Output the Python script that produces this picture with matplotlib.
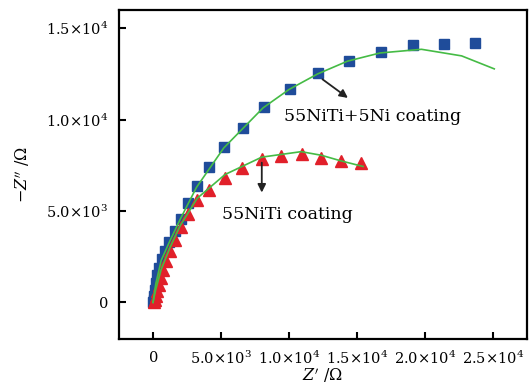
import matplotlib
matplotlib.use("Agg")
import matplotlib.pyplot as plt

plt.rcParams['font.family'] = ['DejaVu Serif']
plt.rcParams['mathtext.fontset'] = 'dejavuserif'

# Data: 55NiTi+5Ni coating (blue squares)
blue_x = [20, 40, 75, 150, 220, 330, 440, 625, 880, 1200, 1595, 2035, 2550, 3270,
          4095, 5240, 6590, 8180, 10070, 12150, 14385, 16735, 19090, 21410, 23720]
blue_y = [0, 110, 330, 655, 1040, 1475, 1910, 2350, 2800, 3290, 3890, 4585, 5445, 6350,
          7390, 8490, 9570, 10685, 11685, 12540, 13210, 13690, 14070, 14125, 14210]
blue_fit_x = [0, 200, 600, 1200, 2000, 3200, 5200, 8100, 10000, 12100, 14300, 16700,
              19750, 22700, 25100]
blue_fit_y = [0, 1000, 2300, 3300, 4550, 6300, 8450, 10650, 11650, 12500, 13200, 13650,
              13850, 13490, 12780]

# Data: 55NiTi coating (red triangles)
red_x = [75, 110, 185, 295, 440, 590, 770, 990, 1250, 1615, 2035, 2595, 3255, 4130,
         5290, 6540, 7990, 9445, 10930, 12370, 13800, 15290]
red_y = [0, 110, 330, 600, 930, 1310, 1750, 2240, 2800, 3440, 4130, 4860, 5595, 6170,
         6835, 7370, 7835, 8025, 8135, 7930, 7750, 7630]
red_fit_x = [0, 200, 600, 1250, 2000, 3250, 5300, 8000, 10900, 12400, 13800, 15450]
red_fit_y = [0, 700, 1800, 3000, 4200, 5700, 7000, 7950, 8250, 8050, 7750, 7440]

xticks = [0, 5000, 10000, 15000, 20000, 25000]
xticklabels = [r'$0$', r'$5.0{\times}10^3$', r'$1.0{\times}10^4$', r'$1.5{\times}10^4$',
               r'$2.0{\times}10^4$', r'$2.5{\times}10^4$']
yticks = [0, 5000, 10000, 15000]
yticklabels = [r'$0$', r'$5.0{\times}10^3$', r'$1.0{\times}10^4$', r'$1.5{\times}10^4$']

fig = plt.figure(figsize=(5.29, 3.85), dpi=100)
ax = fig.add_axes([0.225, 0.1195, 0.771, 0.8545])

green = '#45bb45'
ax.plot(blue_x, blue_y, 's', color='#1f4c9a', ms=7.5, mec='#1f4c9a', zorder=2)
ax.plot(red_x, red_y, '^', color='#e1202a', ms=8.5, mec='#e1202a', zorder=3)
ax.plot(blue_fit_x, blue_fit_y, '-', color=green, lw=1.2, zorder=4)
ax.plot(red_fit_x, red_fit_y, '-', color=green, lw=1.2, zorder=4)

ax.set_xlim(-2500, 27500)
ax.set_ylim(-2000, 16000)
ax.set_xticks(xticks)
ax.set_xticklabels(xticklabels)
ax.set_yticks(yticks)
ax.set_yticklabels(yticklabels)
ax.tick_params(direction='in', length=5, width=1.5, labelsize=10.5, pad=8)
ax.tick_params(axis='x', pad=8)
for s in ax.spines.values():
    s.set_linewidth(1.6)

ax.set_xlabel(r"$Z'$ /$\Omega$", fontsize=11.5, labelpad=-1)
ax.set_ylabel(r"$-Z''$ /$\Omega$", fontsize=11.5, labelpad=10)

ax.annotate('', xy=(14500, 11100), xytext=(12300, 12300),
            arrowprops=dict(arrowstyle='-|>', color='#222222', lw=1.3, mutation_scale=12))
ax.text(9650, 10150, '55NiTi+5Ni coating', fontsize=12.5, va='center', ha='left')

ax.annotate('', xy=(8000, 5860), xytext=(8000, 7800),
            arrowprops=dict(arrowstyle='-|>', color='#222222', lw=1.3, mutation_scale=12))
ax.text(5100, 4800, '55NiTi coating', fontsize=12.5, va='center', ha='left')

fig.savefig('out.png', dpi=100)
